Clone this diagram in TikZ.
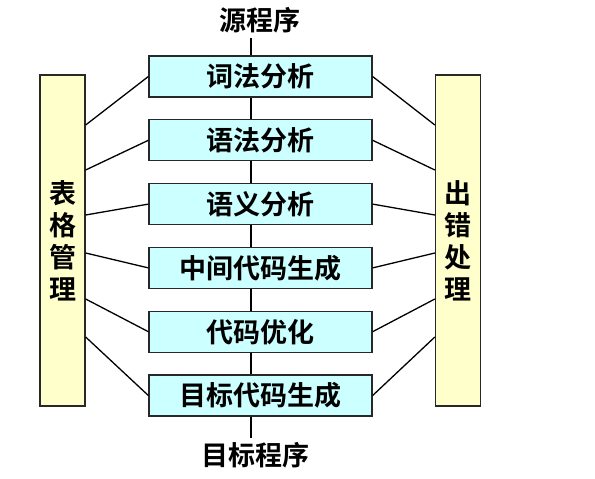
\documentclass[tikz,border=0pt]{standalone}
\usepackage{fontspec}
\newfontfamily\cjk{Noto Sans CJK SC}[BoldFont={Noto Sans CJK SC Bold}]
\usetikzlibrary{positioning}
\definecolor{phasefill}{RGB}{204,255,255}
\definecolor{sidefill}{RGB}{255,255,204}
\definecolor{edgegray}{RGB}{40,40,40}

\begin{document}
\begin{tikzpicture}[x = 1pt, y = -1pt,
  every node/.style = {font = \cjk\bfseries\fontsize{27}{29}\selectfont, inner sep = 0pt},
  phase/.style = {draw = edgegray, line width = 1.3pt, fill = phasefill, minimum width = 223pt, minimum height = 41pt},
  side/.style = {draw = edgegray, line width = 1.3pt, fill = sidefill, minimum width = 45pt, minimum height = 331pt,
    align = center, font = \cjk\bfseries\fontsize{27}{32}\selectfont},
  link/.style = {line width = 1.3pt, black}]
	\useasboundingbox (0,0) rectangle (595,479);
	\node (src) at (260,20) {源程序};
	\node[phase] (b1) at (260.5,76.5) {词法分析};
	\node[phase] (b2) [below = 21.5pt of b1] {语法分析};
	\node[phase] (b3) [below = 21.5pt of b2] {语义分析};
	\node[phase] (b4) [below = 21.5pt of b3] {中间代码生成};
	\node[phase] (b5) [below = 21.5pt of b4] {代码优化};
	\node[phase] (b6) [below = 21.5pt of b5] {目标代码生成};
	\node (dst) at (255,455) {目标程序};
	\node[side] (tab) at (62.5,240.5) {表\\格\\管\\理};
	\node[side] (err) at (458,240.5) {出\\错\\处\\理};
	\coordinate (axis) at (251,0);
	% main chain
	\draw[link] (src.south -| axis) ++(0,5) -- (b1.north -| axis);
	\foreach \i/\j in {1/2,2/3,3/4,4/5,5/6}
		\draw[link] (b\i.south -| axis) -- (b\j.north -| axis);
	\draw[link] (b6.south -| axis) -- ++(0,21);
	% table and error handlers
	\foreach \i/\y in {1/125,2/170,3/215,4/253,5/299,6/337} {
		\draw[link] (b\i.west) -- (tab.east |- 0,\y);
		\draw[link] (b\i.east) -- (err.west |- 0,\y);
	}
\end{tikzpicture}
\end{document}
